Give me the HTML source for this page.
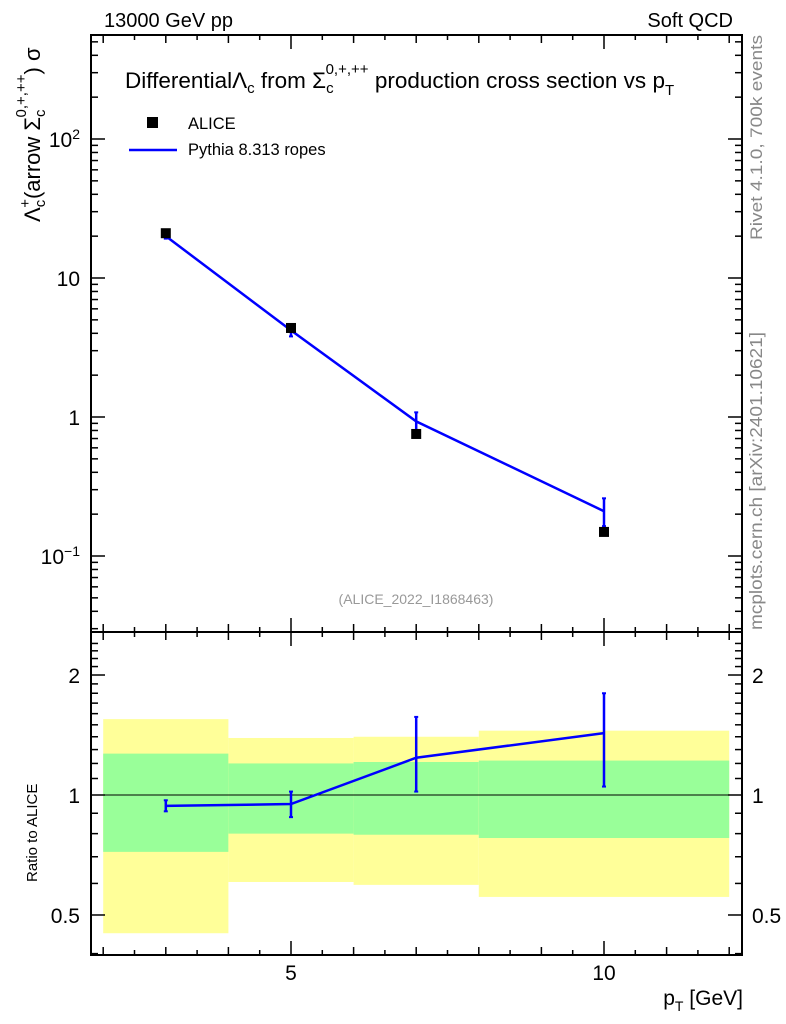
<!DOCTYPE html>
<html><head><meta charset="utf-8"><style>
body{margin:0;background:#fff;}
svg{display:block;font-family:"Liberation Sans",sans-serif;}
</style></head><body>
<svg id="c" width="786" height="1024"></svg>
<script>
const xVals=[3,5,7,10];
const aliceY=[21,4.37,0.755,0.149];
const pythiaY=[20,4.2,0.93,0.21];
const pythiaLo=[19.2,3.8,0.8,0.164];
const pythiaHi=[20.8,4.6,1.08,0.26];
const binEdges=[2,4,6,8,12];
const yellowHi=[1.55,1.39,1.40,1.45];
const yellowLo=[0.45,0.605,0.595,0.555];
const greenHi=[1.27,1.20,1.21,1.22];
const greenLo=[0.72,0.80,0.795,0.78];
const ratioY=[0.939,0.949,1.24,1.43];
const ratioLo=[0.91,0.88,1.02,1.05];
const ratioHi=[0.97,1.02,1.57,1.80];
const mainTicks=[[100,"10<tspan dy='-8' font-size='14'>2</tspan>"],[10,"10"],[1,"1"],[0.1,"10<tspan dy='-8' font-size='14'>−1</tspan>"]];
const ratioTicks=[[2,"2"],[1,"1"],[0.5,"0.5"]];
const xTicks=[[5,"5"],[10,"10"]];

const L=91,R=742,T=35,M=632,B=955;
const sx=v=>291+(v-5)*62.6;
const sy=v=>139-(Math.log10(v)-2)*139;
const ry=v=>795-Math.log10(v)*398.6;
const svg=document.getElementById('c');
const NS='http://www.w3.org/2000/svg';
function add(tag,attrs,name,text){const e=document.createElementNS(NS,tag);for(const k in attrs)e.setAttribute(k,attrs[k]);


if(text!==undefined)e.innerHTML=text;svg.appendChild(e);return e;}

for(let i=0;i<4;i++){
 add('rect',{x:sx(binEdges[i]),y:ry(yellowHi[i]),width:sx(binEdges[i+1])-sx(binEdges[i]),height:ry(yellowLo[i])-ry(yellowHi[i]),fill:'#ffff99'},'yellow-band');
 add('rect',{x:sx(binEdges[i]),y:ry(greenHi[i]),width:sx(binEdges[i+1])-sx(binEdges[i]),height:ry(greenLo[i])-ry(greenHi[i]),fill:'#99ff99'},'green-band');
}
add('line',{x1:L,x2:R,y1:ry(1),y2:ry(1),stroke:'#000','stroke-width':1},'ratio-unity-line');

add('rect',{x:L,y:T,width:R-L,height:M-T,fill:'none',stroke:'#000','stroke-width':2},'main-frame');
add('rect',{x:L,y:M,width:R-L,height:B-M,fill:'none',stroke:'#000','stroke-width':2},'ratio-frame');

for(let v=2;v<=12;v+=0.5){const x=sx(v);const len=(v===5||v===10)?14:(Number.isInteger(v)?8:5);
 for(const [y0,d] of [[T,1],[M,-1],[M,1],[B,-1]]){add('line',{x1:x,x2:x,y1:y0,y2:y0+d*len,stroke:'#000','stroke-width':1.5},'x-tick');}}
xTicks.forEach(t=>add('text',{x:sx(t[0]),y:980,'text-anchor':'middle','font-size':21},'x-tick-label',t[1]));

for(let e=-2;e<=2;e++)for(let m=1;m<10;m++){const v=m*Math.pow(10,e);const y=sy(v);if(y<T||y>M)continue;const len=m===1?14:7;
 add('line',{x1:L,x2:L+len,y1:y,y2:y,stroke:'#000','stroke-width':1.5},'y-tick');
 add('line',{x1:R,x2:R-len,y1:y,y2:y,stroke:'#000','stroke-width':1.5},'y-tick');}
mainTicks.forEach(t=>add('text',{x:80,y:sy(t[0])+8,'text-anchor':'end','font-size':21},'y-tick-label',t[1]));

for(let v=0.4;v<=2.5;v+=0.1){const y=ry(v);if(y<M||y>B)continue;const maj=Math.abs(v-0.5)<1e-6||Math.abs(v-1)<1e-6||Math.abs(v-2)<1e-6;const len=maj?14:7;
 add('line',{x1:L,x2:L+len,y1:y,y2:y,stroke:'#000','stroke-width':1.5},'ratio-tick');
 add('line',{x1:R,x2:R-len,y1:y,y2:y,stroke:'#000','stroke-width':1.5},'ratio-tick');}
ratioTicks.forEach(t=>{add('text',{x:80,y:ry(t[0])+8,'text-anchor':'end','font-size':21},'ratio-tick-label',t[1]);
 add('text',{x:752,y:ry(t[0])+8,'text-anchor':'start','font-size':21},'ratio-tick-label-right',t[1]);});

add('polyline',{points:xVals.map((x,i)=>sx(x)+','+sy(pythiaY[i])).join(' '),fill:'none',stroke:'#0000ff','stroke-width':2.5},'pythia-line');
xVals.forEach((x,i)=>{const X=sx(x);add('line',{x1:X,x2:X,y1:sy(pythiaLo[i]),y2:sy(pythiaHi[i]),stroke:'#0000ff','stroke-width':2.5},'pythia-error');
 add('line',{x1:X-2,x2:X+2,y1:sy(pythiaLo[i]),y2:sy(pythiaLo[i]),stroke:'#0000ff','stroke-width':2},'pythia-error-cap');
 add('line',{x1:X-2,x2:X+2,y1:sy(pythiaHi[i]),y2:sy(pythiaHi[i]),stroke:'#0000ff','stroke-width':2},'pythia-error-cap');});
xVals.forEach((x,i)=>add('rect',{x:sx(x)-5,y:sy(aliceY[i])-5,width:10,height:10,fill:'#000'},'alice-point'));

add('polyline',{points:xVals.map((x,i)=>sx(x)+','+ry(ratioY[i])).join(' '),fill:'none',stroke:'#0000ff','stroke-width':2.5},'ratio-line');
xVals.forEach((x,i)=>{const X=sx(x);add('line',{x1:X,x2:X,y1:ry(ratioLo[i]),y2:ry(ratioHi[i]),stroke:'#0000ff','stroke-width':2.5},'ratio-error');
 add('line',{x1:X-2,x2:X+2,y1:ry(ratioLo[i]),y2:ry(ratioLo[i]),stroke:'#0000ff','stroke-width':2},'ratio-error-cap');
 add('line',{x1:X-2,x2:X+2,y1:ry(ratioHi[i]),y2:ry(ratioHi[i]),stroke:'#0000ff','stroke-width':2},'ratio-error-cap');});

add('text',{x:104,y:27,'font-size':20},'header-energy','13000 GeV pp');
add('text',{x:733,y:27,'font-size':20,'text-anchor':'end'},'header-process','Soft QCD');
add('text',{x:125,y:88,'font-size':22.5},'plot-title',"DifferentialΛ<tspan dy='5' font-size='15'>c</tspan><tspan dy='-5'> from Σ</tspan><tspan dy='5' font-size='15'>c</tspan><tspan dy='-19' dx='-8' font-size='15'>0,+,++</tspan><tspan dy='14'> production cross section vs p</tspan><tspan dy='7' font-size='15'>T</tspan>");
add('rect',{x:147,y:117,width:11,height:11,fill:'#000'},'legend-alice-marker');
add('text',{x:188,y:129,'font-size':16.5},'legend-alice','ALICE');
add('line',{x1:129,x2:177,y1:150,y2:150,stroke:'#0000ff','stroke-width':2.5},'legend-pythia-line');
add('text',{x:188,y:155,'font-size':16.5},'legend-pythia','Pythia 8.313 ropes');
add('text',{x:416,y:604,'font-size':14,fill:'#999','text-anchor':'middle'},'analysis-id','(ALICE_2022_I1868463)');
add('text',{x:0,y:0,'font-size':22,transform:'translate(40,222) rotate(-90)'},'y-axis-title',"Λ<tspan dy='5' font-size='15'>c</tspan><tspan dy='-15' dx='-8' font-size='15'>+</tspan><tspan dy='10'>(arrow Σ</tspan><tspan dy='5' font-size='15'>c</tspan><tspan dy='-19' dx='-8' font-size='15'>0,+,++</tspan><tspan dy='14'>) σ</tspan>");
add('text',{x:0,y:0,'font-size':15,transform:'translate(37,882) rotate(-90)'},'ratio-axis-title','Ratio to ALICE');
add('text',{x:743,y:1005,'font-size':21,'text-anchor':'end'},'x-axis-title',"p<tspan dy='6' font-size='14'>T</tspan><tspan dy='-6'> [GeV]</tspan>");
add('text',{x:0,y:0,'font-size':17,fill:'#888',transform:'translate(762,240) rotate(-90)',textLength:205,lengthAdjust:'spacingAndGlyphs'},'rivet-version','Rivet 4.1.0,  700k events');
add('text',{x:0,y:0,'font-size':17.5,fill:'#888',transform:'translate(762,630) rotate(-90)',textLength:298,lengthAdjust:'spacingAndGlyphs'},'mcplots-credit','mcplots.cern.ch [arXiv:2401.10621]');
</script>
</body></html>
